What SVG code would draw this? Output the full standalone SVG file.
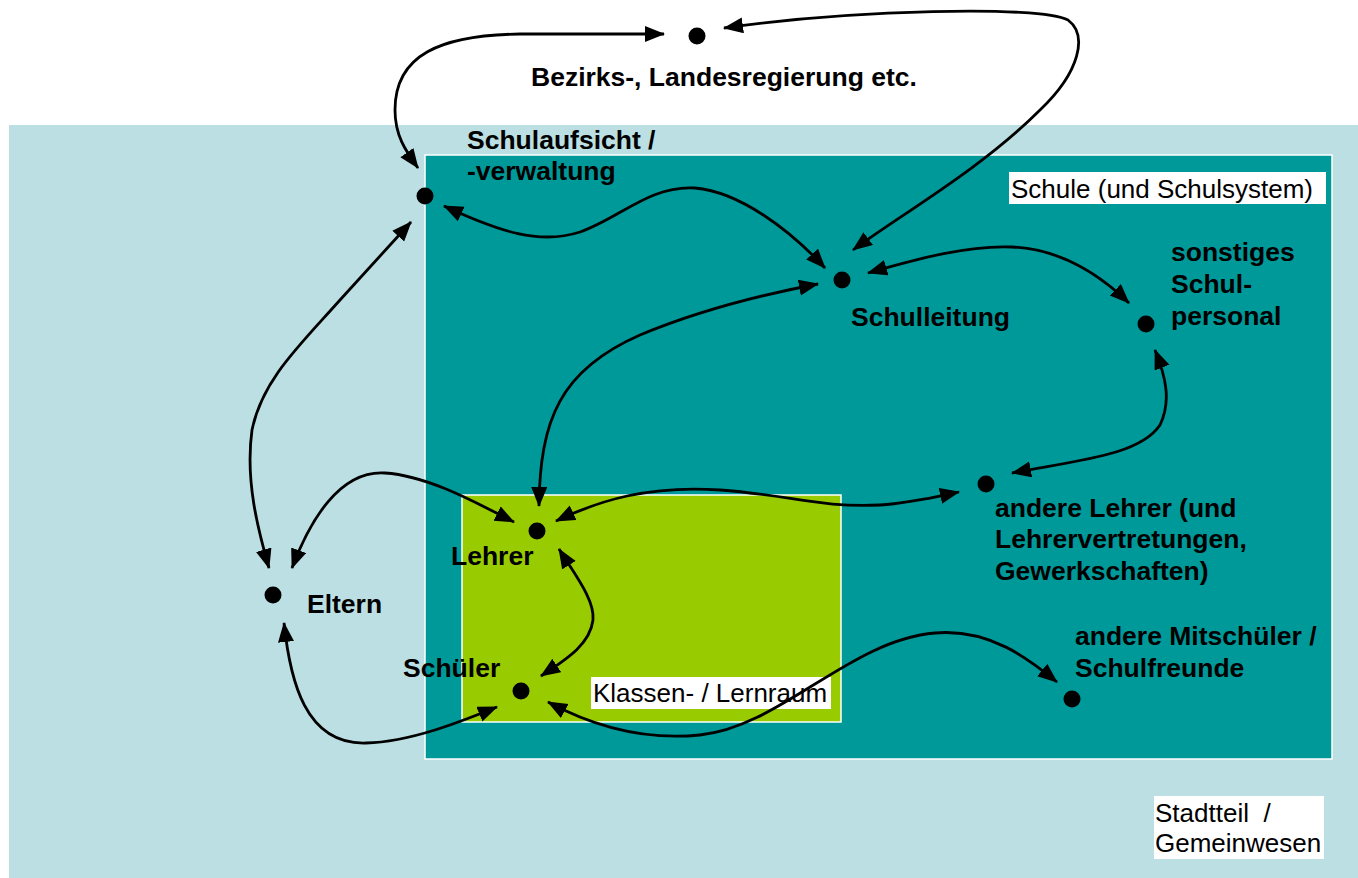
<svg xmlns="http://www.w3.org/2000/svg" width="1358" height="878" viewBox="0 0 1358 878">
  <style>
    .bold { font-family: "Liberation Sans", Arial, sans-serif; font-weight: bold; font-size: 26.5px; fill: #000; }
    .plain { font-family: "Liberation Sans", Arial, sans-serif; font-size: 26px; fill: #000; }
    .dot { fill: #000; }
    .conn { fill: none; stroke: #000; stroke-width: 2.8; marker-start: url(#arrow); marker-end: url(#arrow); }
    .tag { fill: #fff; }
  </style>
  <defs>
    <marker id="arrow" markerUnits="userSpaceOnUse" markerWidth="22" markerHeight="18" refX="19" refY="8" orient="auto-start-reverse">
      <path d="M0,0 L20,8 L0,16 Z" fill="#000"/>
    </marker>
  </defs>

  <rect width="1358" height="878" fill="#fff"/>

  <!-- district / community -->
  <g id="stadtteil">
    <rect x="9" y="125" width="1349" height="753" fill="#BBDFE2"/>
    <rect class="tag" x="1154" y="796" width="170" height="63"/>
    <text class="plain" x="1155" y="822" xml:space="preserve">Stadtteil  /</text>
    <text class="plain" x="1155" y="852">Gemeinwesen</text>
  </g>

  <!-- school -->
  <g id="schule">
    <rect x="425" y="155" width="907" height="604" fill="#009999" stroke="#fff" stroke-width="1.5"/>
    <rect class="tag" x="1009" y="172" width="317" height="32"/>
    <text class="plain" x="1011" y="198">Schule (und Schulsystem)</text>
  </g>

  <!-- classroom -->
  <g id="klassenraum">
    <rect x="462" y="495" width="379" height="227" fill="#99CC00" stroke="#fff" stroke-width="1.5"/>
    <rect class="tag" x="591" y="677" width="240" height="32"/>
    <text class="plain" x="593" y="702">Klassen- / Lernraum</text>
  </g>

  <!-- connectors -->
  <g id="connectors">
    <path class="conn" d="M418,168 C405,150 395,135 395,110 C395,55 440,35 520,34 L664,34"/>
    <path class="conn" d="M724,28 C850,10 1040,5 1068,20 C1088,35 1080,72 1040,110 C980,170 900,215 853,250"/>
    <path class="conn" d="M444,206 C500,232 540,245 580,232 C620,218 650,185 695,188 C740,192 790,230 825,268"/>
    <path class="conn" d="M868,273 C920,258 970,245 1012,247 C1060,249 1100,275 1129,303"/>
    <path class="conn" d="M1155,350 C1165,375 1172,400 1160,425 C1140,455 1080,460 1012,473"/>
    <path class="conn" d="M556,521 C600,500 650,485 720,490 C790,495 820,508 880,505 C910,503 935,497 959,492"/>
    <path class="conn" d="M539,506 C540,420 560,370 640,335 C700,310 760,295 818,284"/>
    <path class="conn" d="M292,568 C310,520 340,470 385,473 C430,476 480,505 514,522"/>
    <path class="conn" d="M411,222 L340,300 C300,345 262,380 252,430 C245,480 258,530 269,568"/>
    <path class="conn" d="M284,623 C290,680 305,745 366,743 C410,742 460,722 497,707"/>
    <path class="conn" d="M559,549 C575,575 595,600 593,620 C590,645 565,660 541,676"/>
    <path class="conn" d="M548,702 C600,730 650,740 700,735 C780,727 850,640 935,633 C990,628 1030,660 1057,682"/>
  </g>

  <g id="regierung">
    <circle class="dot" cx="697" cy="36" r="8.5"/>
    <text class="bold" x="531" y="86">Bezirks-, Landesregierung etc.</text>
  </g>

  <g id="schulaufsicht">
    <circle class="dot" cx="425" cy="196" r="8.5"/>
    <text class="bold" x="467" y="149">Schulaufsicht /</text>
    <text class="bold" x="467" y="180">-verwaltung</text>
  </g>

  <g id="schulleitung">
    <circle class="dot" cx="842" cy="280" r="8.5"/>
    <text class="bold" x="851" y="326">Schulleitung</text>
  </g>

  <g id="schulpersonal">
    <circle class="dot" cx="1146" cy="324" r="8.5"/>
    <text class="bold" x="1171" y="261">sonstiges</text>
    <text class="bold" x="1171" y="293">Schul-</text>
    <text class="bold" x="1171" y="325">personal</text>
  </g>

  <g id="andere-lehrer">
    <circle class="dot" cx="986" cy="484" r="8.5"/>
    <text class="bold" x="995" y="517">andere Lehrer (und</text>
    <text class="bold" x="995" y="548">Lehrervertretungen,</text>
    <text class="bold" x="995" y="580">Gewerkschaften)</text>
  </g>

  <g id="lehrer">
    <circle class="dot" cx="537" cy="531" r="8.5"/>
    <text class="bold" x="451" y="565">Lehrer</text>
  </g>

  <g id="eltern">
    <circle class="dot" cx="273" cy="595" r="8.5"/>
    <text class="bold" x="307" y="613">Eltern</text>
  </g>

  <g id="schueler">
    <circle class="dot" cx="521" cy="691" r="8.5"/>
    <text class="bold" x="403" y="677">Schüler</text>
  </g>

  <g id="mitschueler">
    <circle class="dot" cx="1072" cy="699" r="8.5"/>
    <text class="bold" x="1075" y="645">andere Mitschüler /</text>
    <text class="bold" x="1075" y="677">Schulfreunde</text>
  </g>
</svg>
